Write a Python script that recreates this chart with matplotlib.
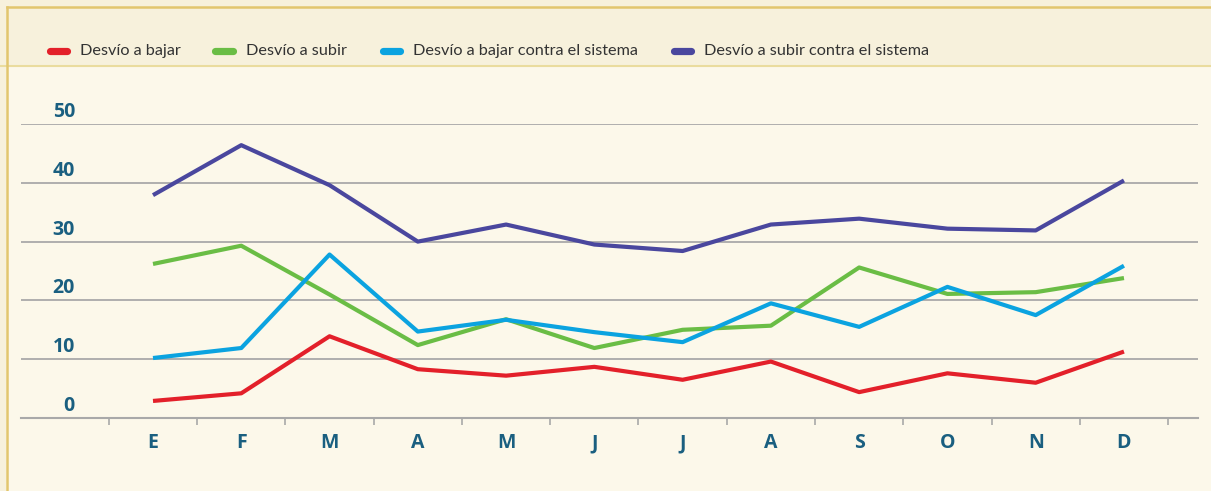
import numpy as np
import matplotlib
matplotlib.use('Agg')
import matplotlib.pyplot as plt
from matplotlib.lines import Line2D
from matplotlib.patches import Rectangle
import matplotlib.transforms as mtransforms

# datos (valores mensuales)
months = ['E', 'F', 'M', 'A', 'M', 'J', 'J', 'A', 'S', 'O', 'N', 'D']
series_names = ['Desvío a bajar', 'Desvío a subir',
                'Desvío a bajar contra el sistema', 'Desvío a subir contra el sistema']
desvio_bajar = [2.9, 4.2, 13.9, 8.3, 7.2, 8.7, 6.5, 9.6, 4.4, 7.6, 6.0, 11.3]
desvio_subir = [26.2, 29.3, 21.0, 12.4, 16.8, 11.9, 15.0, 15.7, 25.6, 21.1, 21.4, 23.8]
bajar_sistema = [10.2, 11.9, 27.8, 14.7, 16.7, 14.6, 12.9, 19.5, 15.5, 22.3, 17.5, 25.9]
subir_sistema = [37.9, 46.4, 39.6, 30.0, 32.9, 29.5, 28.4, 32.9, 33.9, 32.2, 31.9, 40.4]
y_ticks = [0, 10, 20, 30, 40, 50]

colors = ['#e3202a', '#6abd45', '#0ba3e0', '#4a479e']
text_blue = '#1a5f80'
body_bg = '#fcf8ea'
header_bg = '#f7f1dc'

W, H = 1211, 491
fig = plt.figure(figsize=(W / 100, H / 100), dpi=100)
fig.patch.set_facecolor(body_bg)

# cabecera y bordes
fig.patches.append(Rectangle((0, 1 - 66 / H), 1, 66 / H, transform=fig.transFigure,
                             facecolor=header_bg, edgecolor='none', zorder=0))
fig.patches.append(Rectangle((0, 0), 6 / W, 1, transform=fig.transFigure,
                             facecolor=header_bg, edgecolor='none', zorder=0))
fig.add_artist(Line2D([0, 1], [1 - 66 / H] * 2, transform=fig.transFigure,
                      color='#eadc9e', lw=1.5))
fig.add_artist(Line2D([7 / W, 1], [1 - 7 / H] * 2, transform=fig.transFigure,
                      color='#e2c66e', lw=1.8))
fig.add_artist(Line2D([7 / W, 7 / W], [0, 1 - 7 / H], transform=fig.transFigure,
                      color='#e2c66e', lw=1.8))

# ejes: x=0 en 153px, paso 88.27px; y 0 en 418px, 50 en 124px
step = 88.27
x0 = 153
left_px, right_px = 21, 1198
ax = fig.add_axes([left_px / W, (H - 418) / H, (right_px - left_px) / W, (418 - 124) / H])
ax.set_xlim((left_px - x0) / step, (right_px - x0) / step)
ax.set_ylim(0, 50)
ax.set_facecolor('none')
ax.patch.set_alpha(0)

for s in ['top', 'right', 'left']:
    ax.spines[s].set_visible(False)
ax.spines['bottom'].set_color('#a9a9a9')
ax.spines['bottom'].set_linewidth(1.5)

ax.set_yticks(y_ticks)
ax.set_yticklabels([])
ax.tick_params(axis='y', length=0)
ax.grid(axis='y', color='#a9a9a9', lw=1.3)
ax.set_axisbelow(True)

x = np.arange(len(months))
ax.set_xticks(x)
ax.set_xticklabels(months, fontsize=14, fontweight='bold', color=text_blue, family='Open Sans')
ax.tick_params(axis='x', which='major', length=0, pad=11)
ax.set_xticks(np.arange(-0.5, len(months), 1), minor=True)
ax.tick_params(axis='x', which='minor', length=5, width=1.2, color='#a9a9a9', direction='out')

# etiquetas del eje y por encima de las lineas
offset = mtransforms.offset_copy(ax.get_yaxis_transform(), fig=fig, x=0, y=7, units='dots')
for v in y_ticks:
    ax.text((75 - left_px) / (right_px - left_px), v, str(v), transform=offset,
            ha='right', va='baseline', fontsize=14, fontweight='bold', color=text_blue,
            family='Open Sans')

all_series = [desvio_bajar, desvio_subir, bajar_sistema, subir_sistema]
for vals, c, name in zip(all_series, colors, series_names):
    ax.plot(x, vals, color=c, lw=3.0, label=name, solid_capstyle='butt', clip_on=False)

# leyenda en la cabecera
leg_y = 1 - 51 / H
marker_x = [46, 212, 379, 670]
for mx, c, name in zip(marker_x, colors, series_names):
    fig.add_artist(Line2D([(mx + 3.5) / W, (mx + 20.5) / W], [leg_y, leg_y],
                          transform=fig.transFigure, color=c, lw=5.2,
                          solid_capstyle='round'))
    fig.text((mx + 34) / W, leg_y, name, ha='left', va='center', fontsize=11.7,
             color='#333333', family='Lato')

fig.savefig('out.png', dpi=100, facecolor=fig.get_facecolor())
